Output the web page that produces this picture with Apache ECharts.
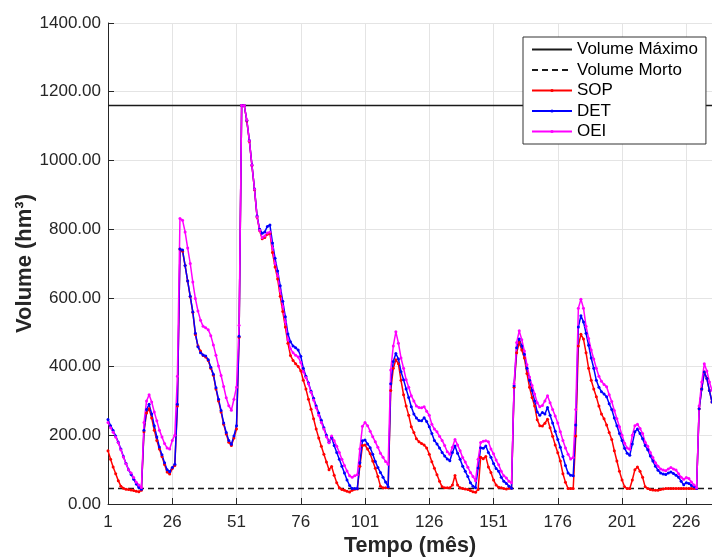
<!DOCTYPE html>
<html>
<head>
<meta charset="utf-8">
<script src="https://cdn.jsdelivr.net/npm/echarts@6/dist/echarts.min.js"></script>
<style>
  html, body { margin: 0; padding: 0; background: #fff; }
  #chart { width: 712px; height: 557px; }
</style>
</head>
<body>
<div id="chart"></div>
<script>
// meses 1..236 (eixo de categorias)
const months = Array.from({ length: 236 }, (_, i) => String(i + 1))

// limites do reservatório (hm³)
const VOLUME_MAX = 1160
const VOLUME_MORTO = 45

// volumes, um valor por mês
const sop = [
  155, 130, 108, 88, 68, 52, 46, 43, 42, 41,
  39, 37, 36, 40, 210, 265, 277, 250, 215, 185,
  160, 138, 115, 93, 87, 103, 112, 285, 742, 736,
  694, 649, 603, 558, 493, 460, 445, 432, 428, 418,
  395, 375, 335, 300, 268, 232, 204, 180, 170, 192,
  218, 485, 1160, 1160, 1115, 1056, 985, 915, 835, 796,
  772, 776, 785, 788, 732, 690, 655, 605, 560, 515,
  468, 432, 418, 408, 400, 388, 360, 335, 305, 276,
  248, 218, 192, 168, 145, 122, 100, 109, 84, 62,
  47, 42, 40, 37, 35, 40, 43, 44, 110, 170,
  172, 160, 146, 125, 104, 80, 52, 47, 47, 47,
  330, 395, 420, 408, 360, 318, 285, 258, 225, 208,
  190, 181, 176, 172, 163, 145, 123, 104, 85, 66,
  50, 47, 47, 47, 55, 83, 55, 47, 45, 44,
  42, 39, 36, 34, 42, 136, 132, 138, 108, 92,
  70, 55, 49, 47, 45, 44, 46, 46, 340, 440,
  470, 448, 425, 380, 340, 310, 285, 245, 228, 227,
  235, 247, 222, 197, 172, 149, 125, 88, 63, 45,
  45, 45, 198, 460, 494, 480, 440, 395, 360, 335,
  312, 285, 262, 248, 230, 208, 188, 155, 125, 95,
  70, 50, 45, 45, 70, 100, 108, 95, 78, 50,
  45, 42, 41, 40, 40, 42, 44, 45, 45, 45,
  45, 45, 45, 45, 45, 45, 45, 45, 45, 45,
  277, 335, 384, 365, 330, 297,
]

const det = [
  246, 228, 214, 198, 180, 160, 138, 118, 100, 86,
  72, 58, 48, 43, 215, 275, 290, 262, 228, 195,
  166, 143, 120, 100, 94, 106, 116, 290, 742, 739,
  694, 649, 605, 559, 497, 458, 440, 434, 431, 420,
  398, 378, 338, 305, 272, 236, 208, 185, 174, 198,
  228, 488, 1160, 1160, 1117, 1058, 987, 917, 838, 800,
  788, 792, 808, 812, 760, 715, 678, 635, 590, 545,
  495, 472, 460, 455, 448, 430, 395, 372, 352, 328,
  308, 285, 265, 244, 222, 200, 180, 194, 170, 150,
  130, 110, 90, 70, 54, 45, 45, 45, 120, 184,
  186, 175, 164, 145, 124, 106, 92, 78, 64, 50,
  350, 415, 438, 422, 385, 362, 335, 310, 283, 262,
  250, 243, 242, 251, 240, 225, 205, 185, 175, 163,
  150, 140, 131, 126, 150, 169, 148, 130, 110, 95,
  80, 62, 52, 47, 105, 164, 162, 169, 150, 136,
  118, 103, 95, 78, 66, 60, 52, 46, 344, 455,
  480, 460, 436, 395, 360, 330, 300, 268, 258, 266,
  262, 281, 258, 236, 212, 188, 165, 138, 112, 90,
  84, 82, 230, 515, 548, 530, 497, 462, 425, 395,
  360, 340, 327, 320, 312, 292, 275, 250, 228, 205,
  185, 162, 148, 142, 175, 210, 218, 205, 190, 170,
  158, 140, 125, 110, 98, 90, 87, 86, 90, 93,
  89, 84, 78, 66, 56, 62, 60, 54, 50, 45,
  277, 335, 384, 365, 330, 297,
]

const oei = [
  237, 222, 209, 195, 178, 158, 137, 117, 100, 90,
  77, 63, 55, 48, 237, 300, 318, 297, 268, 242,
  215, 195, 176, 163, 160, 185, 200, 372, 831, 826,
  792, 745, 700, 646, 598, 562, 535, 517, 513, 507,
  490, 463, 433, 402, 374, 342, 309, 286, 273, 305,
  340, 520, 1160, 1160, 1118, 1057, 986, 916, 836, 797,
  775, 780, 789, 792, 745, 700, 665, 620, 575, 530,
  478, 452, 440, 433, 428, 412, 385, 368, 350, 325,
  303, 280, 258, 237, 218, 196, 178, 198, 184, 168,
  150, 130, 112, 96, 82, 78, 82, 85, 160, 226,
  237, 228, 212, 196, 181, 165, 148, 136, 124, 116,
  390, 460, 501, 468, 425, 395, 362, 340, 315, 300,
  285, 281, 280, 283, 270, 258, 232, 218, 210, 197,
  185, 170, 152, 145, 165, 188, 172, 155, 135, 122,
  107, 92, 80, 68, 130, 179, 183, 184, 181, 160,
  146, 128, 114, 95, 82, 76, 66, 62, 350, 470,
  504, 478, 445, 405, 370, 345, 320, 295, 283, 287,
  300, 315, 295, 275, 256, 236, 210, 185, 163, 145,
  131, 135, 275, 570, 596, 570, 517, 482, 448, 422,
  395, 372, 357, 348, 341, 318, 298, 272, 248, 225,
  200, 177, 163, 159, 200, 228, 232, 220, 205, 180,
  168, 150, 135, 120, 110, 102, 99, 97, 102, 106,
  102, 99, 88, 78, 72, 77, 74, 64, 55, 47,
  285, 355, 408, 387, 355, 331,
]

const FONT = '"Liberation Sans", Arial, Helvetica, sans-serif'
const AXIS_COLOR = '#262626'
const GRID_COLOR = '#e4e4e4'

const chart = echarts.init(document.getElementById('chart'), null, { renderer: 'canvas' })

// série com marcadores pequenos (estilo '.-')
const dataSeries = (name, data, color) => ({
  name,
  type: 'line',
  data,
  symbol: 'circle',
  symbolSize: 3,
  showSymbol: true,
  showAllSymbol: true,
  lineStyle: { color, width: 1.5 },
  itemStyle: { color },
  emphasis: { disabled: true },
})

// linhas horizontais de referência (volume máximo / morto)
const levelSeries = (name, value, type) => ({
  name,
  type: 'line',
  data: months.map(() => value),
  symbol: 'none',
  lineStyle: { color: '#1a1a1a', width: 1.5, type },
  itemStyle: { color: '#1a1a1a' },
  emphasis: { disabled: true },
  z: 1,
})

chart.setOption({
  animation: false,
  backgroundColor: '#fff',
  grid: {
    left: 108,
    right: 0,
    top: 23,
    bottom: 53,
    outerBoundsMode: 'none',
  },
  legend: {
    orient: 'vertical',
    left: 523,
    top: 37,
    padding: [4, 8, 4, 8],
    itemWidth: 40,
    itemHeight: 4,
    itemGap: 3.5,
    backgroundColor: '#fff',
    borderColor: '#333',
    borderWidth: 1,
    textStyle: {
      color: '#000',
      fontFamily: FONT,
      fontSize: 17,
      lineHeight: 17,
    },
    data: [
      { name: 'Volume Máximo', itemStyle: { opacity: 0 } },
      { name: 'Volume Morto', itemStyle: { opacity: 0 } },
      'SOP',
      'DET',
      'OEI',
    ],
  },
  xAxis: {
    type: 'category',
    data: months,
    boundaryGap: false,
    name: 'Tempo (mês)',
    nameLocation: 'middle',
    nameGap: 31,
    nameMoveOverlap: false,
    nameTextStyle: {
      color: AXIS_COLOR,
      fontFamily: FONT,
      fontSize: 21.5,
      fontWeight: 'bold',
    },
    axisLine: { lineStyle: { color: AXIS_COLOR, width: 1 } },
    axisTick: {
      inside: true,
      length: 6,
      interval: 24,
      lineStyle: { color: AXIS_COLOR },
    },
    axisLabel: {
      interval: 24,
      margin: 10,
      color: AXIS_COLOR,
      fontFamily: FONT,
      fontSize: 17,
    },
    splitLine: {
      show: true,
      interval: 24,
      lineStyle: { color: GRID_COLOR, width: 1 },
    },
  },
  yAxis: {
    type: 'value',
    min: 0,
    max: 1400,
    interval: 200,
    name: 'Volume (hm³)',
    nameLocation: 'middle',
    nameGap: 72,
    nameMoveOverlap: false,
    nameTextStyle: {
      color: AXIS_COLOR,
      fontFamily: FONT,
      fontSize: 22,
      fontWeight: 'bold',
    },
    axisLine: { show: true, lineStyle: { color: AXIS_COLOR, width: 1 } },
    axisTick: { show: true, inside: true, length: 6, lineStyle: { color: AXIS_COLOR } },
    axisLabel: {
      margin: 7,
      color: AXIS_COLOR,
      fontFamily: FONT,
      fontSize: 17,
      formatter: (v) => v.toFixed(2),
    },
    splitLine: { show: true, lineStyle: { color: GRID_COLOR, width: 1 } },
  },
  series: [
    levelSeries('Volume Máximo', VOLUME_MAX, 'solid'),
    levelSeries('Volume Morto', VOLUME_MORTO, [6, 4]),
    dataSeries('SOP', sop, '#ff0000'),
    dataSeries('DET', det, '#0000ff'),
    dataSeries('OEI', oei, '#ff00ff'),
  ],
})
</script>
</body>
</html>
